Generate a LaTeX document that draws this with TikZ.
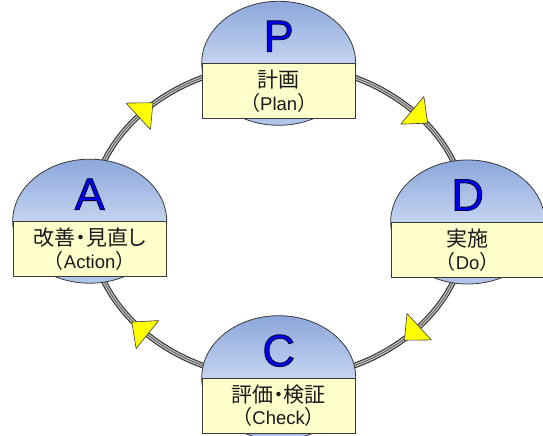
\documentclass[tikz,border=0pt]{standalone}
\usepackage{fontspec}
\setmainfont{Liberation Sans}
\newfontfamily\jpfont{Noto Sans CJK JP}
\newfontfamily\jpprop[RawFeature=+palt]{Noto Sans CJK JP}
\usetikzlibrary{shapes.geometric}
\definecolor{domeTop}{HTML}{8DA7DC}
\definecolor{domeMid}{HTML}{C4D4F0}
\definecolor{domeBot}{HTML}{AFC4EA}
\definecolor{boxfill}{HTML}{FFFFCC}
\definecolor{edge}{HTML}{3A3A3A}
\definecolor{ringdark}{HTML}{2E2E2E}
\definecolor{ringlight}{HTML}{C0C0C0}
\definecolor{ringcore}{HTML}{5A5A5A}
\definecolor{letterblue}{HTML}{0000F0}
\definecolor{arrowyellow}{HTML}{FFFF00}
\newcommand\outlined[1]{\special{pdf:literal direct 2 Tr 0.9 w 0 0 0.25 RG}#1\special{pdf:literal direct 0 Tr}}
\newcommand\twolines[2]{{\jpprop\fontsize{21}{22.5}\selectfont #1}\\{\jpfont （}{\rmfamily\fontsize{18.5}{22.5}\selectfont #2}{\jpfont ）}}
\begin{document}
\begin{tikzpicture}[x=1pt,y=1pt,
  dome/.style={ellipse, draw=edge, line width=0.8pt, minimum width=154pt, minimum height=124pt, inner sep=0pt, top color=domeTop, bottom color=domeBot, middle color=domeMid},
  label box/.style={rectangle, draw=edge, line width=0.8pt, fill=boxfill, minimum width=153pt, minimum height=55pt, anchor=north, inner sep=0pt, align=center, font=\jpfont\fontsize{20}{22.5}\selectfont, text=black!90},
  letter/.style={font=\fontsize{45}{45}\selectfont, text=letterblue, inner sep=0pt},
  arrowtri/.style={fill=arrowyellow, draw=edge, line width=0.6pt, line join=round}]
\useasboundingbox (0,0) rectangle (543,436);
\clip (0,0) rectangle (543,436);
% ring
\coordinate (ring) at (278.7,214.5);
\draw[ringdark, line width=5.6pt] (ring) ellipse [x radius=189pt, y radius=157.2pt];
\draw[ringlight, line width=3.4pt] (ring) ellipse [x radius=189pt, y radius=157.2pt];
\draw[ringcore, line width=0.8pt] (ring) ellipse [x radius=189pt, y radius=157.2pt];
% arrowheads (clockwise)
\path (ring) ++(45:189pt and 157.2pt) coordinate (t1);
\path (ring) ++(-42:189pt and 157.2pt) coordinate (t2);
\path (ring) ++(226:189pt and 157.2pt) coordinate (t3);
\path (ring) ++(138:189pt and 157.2pt) coordinate (t4);
\draw[arrowtri, shift={(t1)}, rotate=-39.8] (0,-18) -- (20,0) -- (0,18) -- cycle;
\draw[arrowtri, shift={(t2)}, rotate=-137.3] (0,-18) -- (20,0) -- (0,18) -- cycle;
\draw[arrowtri, shift={(t3)}, rotate=141.2] (0,-18) -- (20,0) -- (0,18) -- cycle;
\draw[arrowtri, shift={(t4)}, rotate=42.7] (0,-18) -- (20,0) -- (0,18) -- cycle;
% P
\node[dome] (Pdome) at (278.7,372.7) {};
\node[label box] (Pbox) at (Pdome.center) {\twolines{計画}{Plan}};
\node[letter] (Pletter) at ([yshift=27pt]Pdome.center) {\outlined{P}};
% D
\node[dome] (Ddome) at (467.7,214.0) {};
\node[label box] (Dbox) at (Ddome.center) {\twolines{実施}{Do}};
\node[letter] (Dletter) at ([yshift=27pt]Ddome.center) {\outlined{D}};
% C
\node[dome] (Cdome) at (278.7,58.3) {};
\node[label box] (Cbox) at (Cdome.center) {\twolines{評価・検証}{Check}};
\node[letter] (Cletter) at ([yshift=27pt]Cdome.center) {\outlined{C}};
% A
\node[dome] (Adome) at (89.7,214.8) {};
\node[label box] (Abox) at (Adome.center) {\twolines{改善・見直し}{Action}};
\node[letter] (Aletter) at ([yshift=27pt]Adome.center) {\outlined{A}};
\end{tikzpicture}
\end{document}
